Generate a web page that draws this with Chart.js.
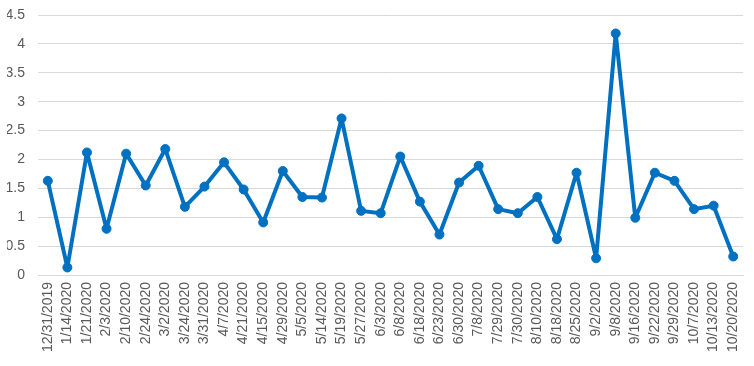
<!DOCTYPE html>
<html>
<head>
<meta charset="utf-8">
<script src="https://cdn.jsdelivr.net/npm/chart.js@4/dist/chart.umd.min.js"></script>
<style>
  html, body { margin: 0; padding: 0; background: #fff; }
  #wrap { width: 754px; height: 366px; }
</style>
</head>
<body>
<div id="wrap"><canvas id="chart"></canvas></div>
<script>
// dates on the x axis
const dates = ['12/31/2019', '1/14/2020', '1/21/2020', '2/3/2020', '2/10/2020', '2/24/2020',
  '3/2/2020', '3/24/2020', '3/31/2020', '4/7/2020', '4/21/2020', '4/15/2020', '4/29/2020',
  '5/5/2020', '5/14/2020', '5/19/2020', '5/27/2020', '6/3/2020', '6/8/2020', '6/18/2020',
  '6/23/2020', '6/30/2020', '7/8/2020', '7/29/2020', '7/30/2020', '8/10/2020', '8/18/2020',
  '8/25/2020', '9/2/2020', '9/8/2020', '9/16/2020', '9/22/2020', '9/29/2020', '10/7/2020',
  '10/13/2020', '10/20/2020'];

// values
const values = [1.63, 0.13, 2.12, 0.80, 2.10, 1.55, 2.18, 1.18, 1.53, 1.95, 1.48, 0.91,
  1.80, 1.35, 1.34, 2.71, 1.11, 1.07, 2.05, 1.27, 0.70, 1.60, 1.89, 1.14, 1.07, 1.35,
  0.62, 1.77, 0.29, 4.18, 0.99, 1.77, 1.63, 1.14, 1.20, 0.32];

// y axis ticks
const yMin = 0;
const yMax = 4.5;
const yStep = 0.5;

const ctx = document.getElementById('chart').getContext('2d');
new Chart(ctx, {
    type: 'line',
    data: {
        labels: dates,
        datasets: [{
            data: values,
            borderColor: '#0070C0',
            backgroundColor: '#0070C0',
            borderWidth: 4,
            borderJoinStyle: 'round',
            pointRadius: 4.5,
            pointBorderWidth: 1,
            pointHoverRadius: 4.5,
            tension: 0
        }]
    },
    options: {
        responsive: true,
        maintainAspectRatio: false,
        animation: false,
        layout: { padding: { left: 7, right: 11, top: 15, bottom: 0 } },
        plugins: {
            legend: { display: false },
            tooltip: { enabled: false }
        },
        scales: {
            x: {
                offset: true,
                grid: { display: false, drawTicks: false },
                border: { color: '#d9d9d9', width: 1 },
                ticks: {
                    color: '#595959',
                    font: { family: 'Liberation Sans', size: 14 },
                    minRotation: 90,
                    maxRotation: 90,
                    autoSkip: false,
                    padding: 7
                },
                afterFit: function(scale) {
                    // fixed plot box like the original
                    scale.paddingLeft = 0;
                    scale.paddingRight = 0;
                    scale.height = 91;
                }
            },
            y: {
                min: yMin,
                max: yMax,
                grid: { color: '#d9d9d9', drawTicks: false },
                border: { display: false },
                ticks: {
                    stepSize: yStep,
                    color: '#595959',
                    font: { family: 'Liberation Sans', size: 14 },
                    padding: 13,
                    callback: v => String(v)
                },
                afterFit: function(scale) {
                    scale.width = 31;
                    scale.paddingTop = 0;
                    scale.paddingBottom = 0;
                }
            }
        }
    }
});
</script>
</body>
</html>
